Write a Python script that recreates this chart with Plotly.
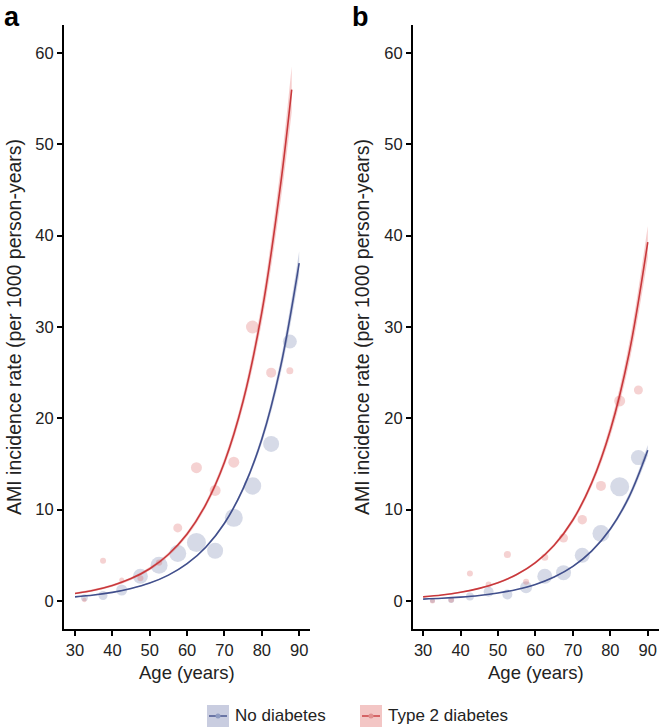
import plotly.graph_objects as go

# ---------------- data ----------------
point_ages = [32.5, 37.5, 42.5, 47.5, 52.5, 57.5, 62.5, 67.5, 72.5, 77.5, 82.5, 87.5]

# panel a : observed rates (per 1000 person-years)
a_no_rate = [0.36, 0.6, 1.2, 2.7, 3.9, 5.2, 6.4, 5.5, 9.1, 12.6, 17.2, 28.4]
a_t2_rate = [0.1, 4.4, 2.3, 2.5, 4.2, 8.0, 14.6, 12.1, 15.2, 30.0, 25.0, 25.2]
# panel a : relative person-years (bubble weight)
a_no_pyrs = [49, 81, 121, 225, 289, 289, 361, 256, 324, 306, 256, 196]
a_t2_pyrs = [20, 36, 25, 36, 40, 81, 121, 121, 121, 169, 100, 49]

# panel b : observed rates
b_no_rate = [0.05, 0.1, 0.5, 1.0, 0.7, 1.5, 2.7, 3.1, 5.0, 7.4, 12.5, 15.7]
b_t2_rate = [0.0, 0.1, 3.0, 1.8, 5.1, 2.1, 4.8, 6.9, 8.9, 12.6, 21.9, 23.1]
b_no_pyrs = [25, 36, 64, 100, 100, 144, 225, 225, 225, 289, 361, 225]
b_t2_pyrs = [25, 30, 36, 36, 49, 36, 49, 81, 90, 100, 121, 81]

# fitted curves (read at these ages)
curve_ages = [30, 35, 40, 45, 50, 55, 60, 65, 70, 75, 80, 85, 90]
curve_ages_a_t2 = [30, 35, 40, 45, 50, 55, 60, 65, 70, 75, 80, 85, 88]
a_no_fit = [0.45, 0.65, 0.94, 1.36, 1.96, 2.83, 4.08, 5.89, 8.51, 12.3, 17.7, 25.6, 37.0]
a_t2_fit = [0.82, 1.18, 1.70, 2.45, 3.53, 5.09, 7.33, 10.56, 15.2, 21.9, 31.6, 45.5, 56.0]
b_no_fit = [0.20, 0.29, 0.42, 0.60, 0.87, 1.26, 1.81, 2.62, 3.78, 5.46, 7.88, 11.4, 16.5]
b_t2_fit = [0.45, 0.65, 0.95, 1.38, 2.00, 2.90, 4.21, 6.11, 8.87, 12.9, 18.7, 27.1, 39.3]
# confidence band relative half-width at the curve ages
ci_no_rel = [0.08, 0.06, 0.05, 0.04, 0.03, 0.025, 0.02, 0.02, 0.02, 0.02, 0.025, 0.03, 0.035]
ci_t2_rel = [0.12, 0.10, 0.08, 0.06, 0.05, 0.04, 0.035, 0.03, 0.03, 0.03, 0.035, 0.04, 0.045]

x_ticks = [30, 40, 50, 60, 70, 80, 90]
y_ticks = [0, 10, 20, 30, 40, 50, 60]
series_names = ["No diabetes", "Type 2 diabetes"]

# ---------------- styles ----------------
BLUE_LINE = "#414f8c"
RED_LINE = "#c8383b"
BLUE_PT = "rgba(100,115,165,0.38)"
RED_PT = "rgba(218,95,95,0.40)"
BLUE_BAND = "rgba(100,115,170,0.30)"
RED_BAND = "rgba(225,90,90,0.30)"
FONT = "Liberation Sans, Arial, sans-serif"
TXT = "#222222"

fig = go.Figure()


def add_panel(xa, ya, no_rate, t2_rate, no_pyrs, t2_pyrs, no_fit, t2_fit, t2_ages):
    for rate, pyrs, col in ((no_rate, no_pyrs, BLUE_PT), (t2_rate, t2_pyrs, RED_PT)):
        fig.add_trace(go.Scatter(
            x=point_ages, y=rate, mode="markers", xaxis=xa, yaxis=ya,
            marker=dict(size=pyrs, sizemode="area", sizeref=2.0, color=col, line=dict(width=0)),
            showlegend=False, hoverinfo="skip"))
    for ages, fit, rel, band, lc in ((curve_ages, no_fit, ci_no_rel, BLUE_BAND, BLUE_LINE),
                                     (t2_ages, t2_fit, ci_t2_rel, RED_BAND, RED_LINE)):
        lo = [f * (1 - r) for f, r in zip(fit, rel)]
        hi = [f * (1 + r) for f, r in zip(fit, rel)]
        fig.add_trace(go.Scatter(x=ages, y=lo, mode="lines", xaxis=xa, yaxis=ya,
                                 line=dict(width=0, shape="spline"), showlegend=False, hoverinfo="skip"))
        fig.add_trace(go.Scatter(x=ages, y=hi, mode="lines", xaxis=xa, yaxis=ya, fill="tonexty",
                                 fillcolor=band, line=dict(width=0, shape="spline"),
                                 showlegend=False, hoverinfo="skip"))
        fig.add_trace(go.Scatter(x=ages, y=fit, mode="lines", xaxis=xa, yaxis=ya,
                                 line=dict(color=lc, width=1.6, shape="spline"),
                                 showlegend=False, hoverinfo="skip"))


add_panel("x", "y", a_no_rate, a_t2_rate, a_no_pyrs, a_t2_pyrs, a_no_fit, a_t2_fit, curve_ages_a_t2)
add_panel("x2", "y2", b_no_rate, b_t2_rate, b_no_pyrs, b_t2_pyrs, b_no_fit, b_t2_fit, curve_ages)

W, H = 661, 728
T, B = 25, 629


def px_x(p):
    return p / W


def px_y(p):
    return (B - p) / (B - T)


axis_common = dict(showgrid=False, zeroline=False, showline=True, linecolor="black", linewidth=2,
                   ticks="outside", ticklen=5, tickwidth=1.5, tickcolor="black",
                   tickfont=dict(family=FONT, size=16.5, color=TXT))

fig.update_layout(
    width=W, height=H,
    margin=dict(l=0, r=0, t=T, b=H - B),
    paper_bgcolor="white", plot_bgcolor="white",
    font=dict(family=FONT, color=TXT),
    showlegend=False,
    xaxis=dict(domain=[px_x(64), px_x(310)], range=[27.05, 92.9], tickvals=x_ticks,
               anchor="y", **axis_common),
    yaxis=dict(domain=[0, 1], range=[-3.07, 63.07], tickvals=y_ticks, anchor="x", **axis_common),
    xaxis2=dict(domain=[px_x(413), px_x(659)], range=[27.3, 93.0], tickvals=x_ticks,
                anchor="y2", **axis_common),
    yaxis2=dict(domain=[0, 1], range=[-3.07, 63.07], tickvals=y_ticks, anchor="x2", **axis_common),
)

ann = []
ytitle = "AMI incidence rate (per 1000 person-years)"
for xc in (14, 362):
    ann.append(dict(text=ytitle, x=px_x(xc), y=0.5, xref="paper", yref="paper", textangle=-90,
                    showarrow=False, xanchor="center", yanchor="middle",
                    font=dict(family=FONT, size=19.5, color=TXT)))
for xc in (187, 536):
    ann.append(dict(text="Age (years)", x=px_x(xc), y=px_y(660), xref="paper", yref="paper",
                    showarrow=False, xanchor="center", yanchor="top",
                    font=dict(family=FONT, size=18.5, color=TXT)))
for lab, xc in (("a", 2), ("b", 350)):
    ann.append(dict(text="<b>%s</b>" % lab, x=px_x(xc), y=px_y(17), xref="paper", yref="paper",
                    showarrow=False, xanchor="left", yanchor="middle",
                    font=dict(family=FONT, size=27, color="black")))

# manual legend
shapes = []
legend_items = [(series_names[0], 207, "#c9cde0", BLUE_LINE, "#8f9cc2"),
                (series_names[1], 360, "#f3c6c5", RED_LINE, "#e08f8e")]
ly0, ly1, lyc = 705, 727, 716
for name, bx, boxc, lc, dotc in legend_items:
    shapes.append(dict(type="rect", xref="paper", yref="paper", x0=px_x(bx), x1=px_x(bx + 22),
                       y0=px_y(ly1), y1=px_y(ly0), fillcolor=boxc, line=dict(width=0), layer="above"))
    shapes.append(dict(type="line", xref="paper", yref="paper", x0=px_x(bx + 2), x1=px_x(bx + 20),
                       y0=px_y(lyc), y1=px_y(lyc), line=dict(color=lc, width=1.4), layer="above"))
    shapes.append(dict(type="circle", xref="paper", yref="paper", x0=px_x(bx + 8.5), x1=px_x(bx + 13.5),
                       y0=px_y(lyc + 2.5), y1=px_y(lyc - 2.5), fillcolor=dotc, line=dict(width=0),
                       layer="above"))
    ann.append(dict(text=name, x=px_x(bx + 26), y=px_y(lyc), xref="paper", yref="paper",
                    showarrow=False, xanchor="left", yanchor="middle",
                    font=dict(family=FONT, size=17, color=TXT)))

fig.update_layout(annotations=ann, shapes=shapes)
fig.write_html("out.html", config={"displayModeBar": False},
               post_script="document.body.style.margin='0';document.body.style.overflow='hidden';")
